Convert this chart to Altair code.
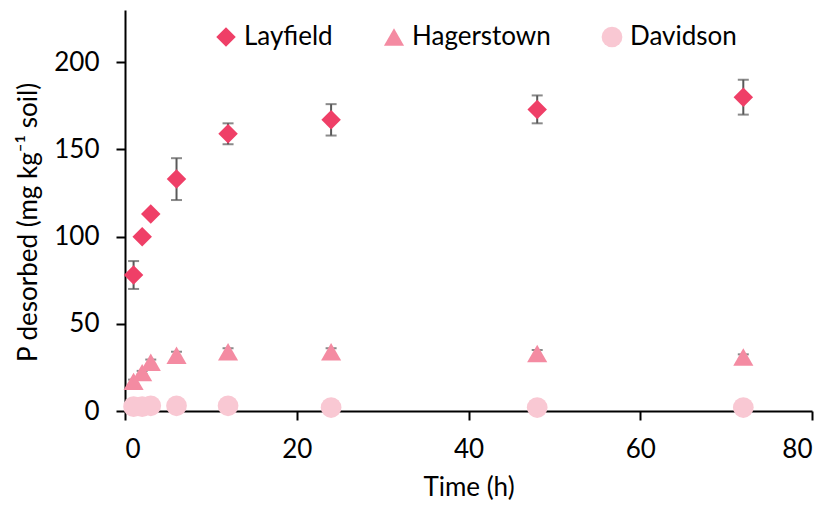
import altair as alt
import pandas as pd

time = [1, 2, 3, 6, 12, 24, 48, 72]
series_names = ["Layfield", "Hagerstown", "Davidson"]
layfield = [78, 100, 113, 133, 159, 167, 173, 180]
layfield_sd = [8, 1.5, 1.5, 12, 6, 9, 8, 10]
hagerstown = [17, 22, 28, 32, 34, 34, 33, 31]
hagerstown_sd = [1, 1, 1.5, 2, 2, 2, 2, 1.5]
davidson = [2.5, 2.5, 3, 3, 3, 2, 2, 2]
davidson_sd = [0.5, 0.5, 0.5, 0.5, 0.5, 0.5, 0.5, 0.5]
colors = ["#EF3F67", "#F48BA2", "#F9C8D3"]
shapes = ["diamond", "triangle-up", "circle"]
sizes = [380, 430, 270]

rows = []
for name, vals, sds in zip(series_names, [layfield, hagerstown, davidson],
                           [layfield_sd, hagerstown_sd, davidson_sd]):
    for t, v, s in zip(time, vals, sds):
        rows.append({"Time": t, "Value": v, "lo": v - s, "hi": v + s, "Soil": name})
df = pd.DataFrame(rows)

FONT = "Lato"
FS = 26

x = alt.X("Time:Q", scale=alt.Scale(domain=[0, 80], nice=False),
          axis=alt.Axis(title="Time (h)", values=[0, 20, 40, 60, 80], grid=False,
                        domainColor="black", domainWidth=2, tickColor="black",
                        tickWidth=2, tickSize=9, labelFontSize=FS, titleFontSize=FS,
                        labelFont=FONT, titleFont=FONT, labelColor="black",
                        titleColor="black", titleFontWeight="normal", labelPadding=16,
                        titlePadding=12))
y = alt.Y("Value:Q", scale=alt.Scale(domain=[0, 230], nice=False),
          axis=alt.Axis(title="P desorbed (mg kg⁻¹ soil)", values=[0, 50, 100, 150, 200],
                        grid=False, domainColor="black", domainWidth=2, tickColor="black",
                        tickWidth=2, tickSize=9, labelFontSize=FS, titleFontSize=FS,
                        labelFont=FONT, titleFont=FONT, labelColor="black",
                        titleColor="black", titleFontWeight="normal", labelPadding=17,
                        titlePadding=12, titleY=212))

color = alt.Color("Soil:N", scale=alt.Scale(domain=series_names, range=colors),
                  legend=alt.Legend(title=None, orient="none", legendX=88, legendY=14,
                                    direction="horizontal", labelFontSize=FS,
                                    labelFont=FONT, labelColor="black", symbolSize=340,
                                    symbolOpacity=1, columnPadding=48, labelOffset=5))
shape = alt.Shape("Soil:N", scale=alt.Scale(domain=series_names, range=shapes),
                  legend=None)
size = alt.Size("Soil:N", scale=alt.Scale(domain=series_names, range=sizes), legend=None)

base = alt.Chart(df)

rules = base.mark_rule(color="#595959", strokeWidth=2).encode(
    x=x, y=alt.Y("lo:Q"), y2="hi:Q")
caps_hi = base.mark_tick(color="#595959", thickness=2, size=11, orient="horizontal").encode(
    x="Time:Q", y=alt.Y("hi:Q"))
caps_lo = base.mark_tick(color="#595959", thickness=2, size=11, orient="horizontal").encode(
    x="Time:Q", y=alt.Y("lo:Q"))
points = base.mark_point(filled=True, opacity=1).encode(
    x=x, y=y, color=color, shape=shape, size=size)

chart = alt.layer(rules, caps_hi, caps_lo, points).properties(
    width=687, height=401,
    autosize=alt.AutoSizeParams(type="none"),
    padding={"left": 117, "top": 2, "right": 10, "bottom": 94},
).configure_view(stroke=None)

chart.save("out.html", embed_options={"renderer": "svg", "actions": False})
